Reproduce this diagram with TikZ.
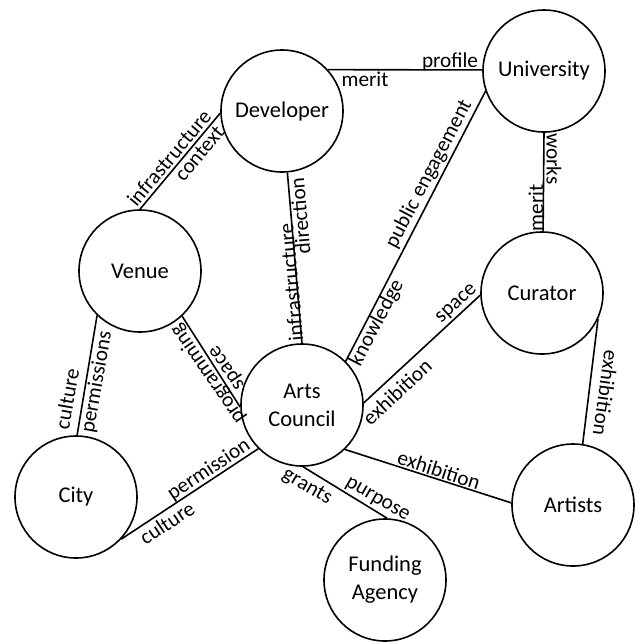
\documentclass[tikz,border=0pt]{standalone}
\usepackage{fontspec}
\setmainfont{Carlito}
\begin{document}
\begin{tikzpicture}[x=0.5pt,y=-0.5pt,
  ent/.style={circle, draw, line width=0.8pt, minimum size=61pt, inner sep=0pt, align=center, font=\fontsize{11.25}{14}\selectfont},
  lbl/.style={inner sep=0pt, font=\fontsize{10.6}{12}\selectfont},
  link/.style={line width=0.8pt}]
\useasboundingbox (0,0) rectangle (641,644);
% entities
\node[ent] (dev) at (282,111) {Developer};
\node[ent] (uni) at (544,71) {University};
\node[ent] (ven) at (140,271) {Venue};
\node[ent] (cur) at (542,293) {Curator};
\node[ent] (ac)  at (302,405) {Arts\\Council};
\node[ent] (city) at (76,497) {City};
\node[ent] (art) at (573,505) {Artists};
\node[ent] (fa)  at (385,580) {Funding\\Agency};
% connectors
\draw[link] (dev.42) -- (uni.179);
\draw[link] (dev.182) -- (ven.90);
\draw[link] (dev.-85) -- (ac.90);
\draw[link] (uni.-90) -- (cur.89);
\draw[link] (uni.199.5) -- (ac.45);
\draw[link] (cur.182) -- (ac.2);
\draw[link] (cur.-25) -- (art.81);
\draw[link] (ac.-46) -- (art.178);
\draw[link] (ac.-89) -- (fa.88);
\draw[link] (ven.226) -- (city.89);
\draw[link] (ven.-47) -- (ac.182);
\draw[link] (city.-43) -- (ac.225);
% labels
\node[lbl] (l1) at (450,61.5) {profile};
\node[lbl] (l2) at (365,79) {merit};
\node[lbl, rotate=50] (l3) at (169,158) {infrastructure};
\node[lbl, rotate=50] (l4) at (199.5,153.5) {context};
\node[lbl, rotate=95] (l5) at (300,216) {direction};
\node[lbl, rotate=95] (l6) at (291,282) {infrastructure};
\node[lbl, rotate=-90] (l7) at (554,159) {works};
\node[lbl, rotate=90] (l8) at (536,208) {merit};
\node[lbl, rotate=62.4] (l9) at (429,174) {public engagement};
\node[lbl, rotate=62.4] (l10) at (377,323) {knowledge};
\node[lbl, rotate=42.7] (l11) at (457,304) {space};
\node[lbl, rotate=42.7] (l12) at (397,392) {exhibition};
\node[lbl, rotate=-98] (l13) at (606,393) {exhibition};
\node[lbl, rotate=-17.9] (l14) at (439,470) {exhibition};
\node[lbl, rotate=-30] (l15) at (377,500) {purpose};
\node[lbl, rotate=-30] (l16) at (307,487) {grants};
\node[lbl, rotate=80] (l17) at (67,399) {culture};
\node[lbl, rotate=80] (l18) at (97,382) {permissions};
\node[lbl, rotate=124.5] (l19) at (208,374) {programming};
\node[lbl, rotate=124.5] (l20) at (228,367) {space};
\node[lbl, rotate=33.7] (l21) at (209,470) {permission};
\node[lbl, rotate=33.7] (l22) at (167,523) {culture};
\end{tikzpicture}
\end{document}
